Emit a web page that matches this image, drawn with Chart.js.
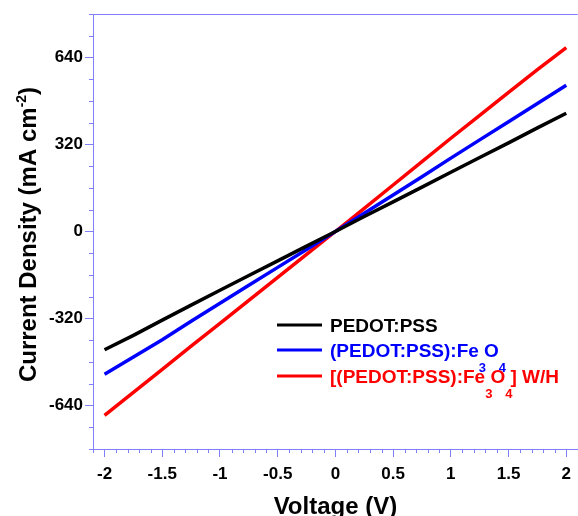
<!DOCTYPE html>
<html>
<head>
<meta charset="utf-8">
<script src="https://cdn.jsdelivr.net/npm/chart.js@4.4.1/dist/chart.umd.min.js"></script>
<style>
  html, body { margin: 0; padding: 0; background: #fff; }
  #wrap { width: 578px; height: 516px; position: relative; }
</style>
</head>
<body>
<div id="wrap"><canvas id="chart"></canvas></div>
<script>
// data
var voltage = [-2, -1.75, -1.5, -1.25, -1, -0.75, -0.5, -0.25, 0, 0.25, 0.5, 0.75, 1, 1.25, 1.5, 1.75, 2];
var pedotPss = [-435, -382, -326, -271, -216, -162, -108, -54, 0, 55, 109, 163, 218, 272, 326, 381, 435];
var pedotFe = [-525, -462, -398, -330, -264, -198, -132, -66, 0, 67, 134, 201, 270, 337, 404, 471, 538];
var pedotFeWH = [-676, -592, -507, -422, -338, -253, -169, -84, 0, 85, 171, 257, 343, 427, 512, 595, 676];

var xTicks = [-2, -1.5, -1, -0.5, 0, 0.5, 1, 1.5, 2];
var xTickLabels = ['-2', '-1.5', '-1', '-0.5', '0', '0.5', '1', '1.5', '2'];
var yTicks = [-640, -320, 0, 320, 640];
var yTickLabels = ['-640', '-320', '0', '320', '640'];

var FONT = 'Liberation Sans, Arial, sans-serif';
var axisColor = '#8080ff';

function toPoints(ys) {
  return voltage.map(function (v, i) { return { x: v, y: ys[i] }; });
}

// legend rows: pieces of text, some of them subscripts
var legendRows = [
  { color: '#000000', parts: [['PEDOT:PSS', 0]] },
  { color: '#0000ff', parts: [['(PEDOT:PSS):Fe', 0], ['3', 1], ['O', 0], ['4', 1]] },
  { color: '#ff0000', parts: [['[(PEDOT:PSS):Fe', 0], ['3', 1], ['O', 0], ['4', 1], ['] W/H', 0]] }
];

var decor = {
  id: 'decor',
  afterDraw: function (chart) {
    var ctx = chart.ctx, area = chart.chartArea;
    var xs = chart.scales.x, ys = chart.scales.y;
    ctx.save();

    // top frame line
    ctx.strokeStyle = axisColor;
    ctx.lineWidth = 1;
    ctx.beginPath();
    ctx.moveTo(area.left - 4, Math.round(area.top) + 0.5);
    ctx.lineTo(area.right, Math.round(area.top) + 0.5);
    ctx.stroke();

    // minor ticks
    ctx.beginPath();
    for (var i = -21; i <= 21; i++) {
      if (i % 5 === 0) continue;
      var px = Math.round(xs.getPixelForValue(i / 10)) + 0.5;
      ctx.moveTo(px, area.bottom);
      ctx.lineTo(px, area.bottom + 4);
    }
    for (var j = -10; j <= 10; j++) {
      if (j % 4 === 0) continue;
      var py = Math.round(ys.getPixelForValue(j * 80)) + 0.5;
      ctx.moveTo(area.left - 4, py);
      ctx.lineTo(area.left, py);
    }
    ctx.stroke();

    // axis titles
    ctx.fillStyle = '#000';
    ctx.textBaseline = 'alphabetic';
    ctx.font = 'bold 24px ' + FONT;
    ctx.textAlign = 'center';
    ctx.fillText('Voltage (V)', (area.left + area.right) / 2, 514);

    var main = 'Current Density (mA cm', sup = '-2', end = ')';
    ctx.font = 'bold 24px ' + FONT;
    var w1 = ctx.measureText(main).width, w3 = ctx.measureText(end).width;
    ctx.font = 'bold 14px ' + FONT;
    var w2 = ctx.measureText(sup).width;
    var total = w1 + w2 + w3;
    ctx.translate(36, (area.top + area.bottom) / 2 + 3);
    ctx.rotate(-Math.PI / 2);
    ctx.textAlign = 'left';
    ctx.font = 'bold 24px ' + FONT;
    ctx.fillText(main, -total / 2, 0);
    ctx.font = 'bold 14px ' + FONT;
    ctx.fillText(sup, -total / 2 + w1, -10);
    ctx.font = 'bold 24px ' + FONT;
    ctx.fillText(end, -total / 2 + w1 + w2, 0);
    ctx.setTransform(1, 0, 0, 1, 0, 0);

    // legend
    var rowY = [325, 350, 376];
    legendRows.forEach(function (row, r) {
      var y = rowY[r];
      ctx.strokeStyle = row.color;
      ctx.lineWidth = 3;
      ctx.beginPath();
      ctx.moveTo(277, y);
      ctx.lineTo(322, y);
      ctx.stroke();
      ctx.fillStyle = row.color;
      ctx.textAlign = 'left';
      var x = 330;
      row.parts.forEach(function (p) {
        if (p[1]) {
          ctx.font = 'bold 13px ' + FONT;
          ctx.fillText(p[0], x, y + 22);
          x += ctx.measureText(p[0]).width - 2;
        } else {
          ctx.font = 'bold 19px ' + FONT;
          ctx.fillText(p[0], x, y + 7);
          x += ctx.measureText(p[0]).width;
        }
      });
    });
    ctx.restore();
  }
};

var tickFont = { family: FONT, size: 17, weight: 'bold' };

new Chart(document.getElementById('chart').getContext('2d'), {
  type: 'line',
  data: {
    datasets: [
      { label: 'PEDOT:PSS', data: toPoints(pedotPss), borderColor: '#000000' },
      { label: '(PEDOT:PSS):Fe3O4', data: toPoints(pedotFe), borderColor: '#0000ff' },
      { label: '[(PEDOT:PSS):Fe3O4] W/H', data: toPoints(pedotFeWH), borderColor: '#ff0000' }
    ]
  },
  options: {
    responsive: true,
    maintainAspectRatio: false,
    animation: false,
    devicePixelRatio: 1,
    layout: { padding: { top: 14, left: 0, right: 0, bottom: 0 } },
    elements: {
      line: { borderWidth: 3.5, tension: 0, fill: false },
      point: { radius: 0 }
    },
    plugins: { legend: { display: false }, tooltip: { enabled: false } },
    scales: {
      x: {
        type: 'linear',
        min: -2.1,
        max: 2.1,
        afterBuildTicks: function (s) { s.ticks = xTicks.map(function (v) { return { value: v }; }); },
        afterFit: function (s) { s.height = 67; },
        ticks: {
          autoSkip: false, maxRotation: 0, padding: 7, color: '#000', font: tickFont,
          callback: function (v, i) { return xTickLabels[i]; }
        },
        grid: { drawOnChartArea: false, tickLength: 8, color: axisColor },
        border: { color: axisColor, width: 1 }
      },
      y: {
        type: 'linear',
        min: -800,
        max: 800,
        afterBuildTicks: function (s) { s.ticks = yTicks.map(function (v) { return { value: v }; }); },
        afterFit: function (s) { s.width = 93; },
        ticks: {
          padding: 2, color: '#000', font: tickFont,
          callback: function (v, i) { return yTickLabels[i]; }
        },
        grid: { drawOnChartArea: false, tickLength: 8, color: axisColor },
        border: { color: axisColor, width: 1 }
      }
    }
  },
  plugins: [decor]
});
</script>
</body>
</html>
